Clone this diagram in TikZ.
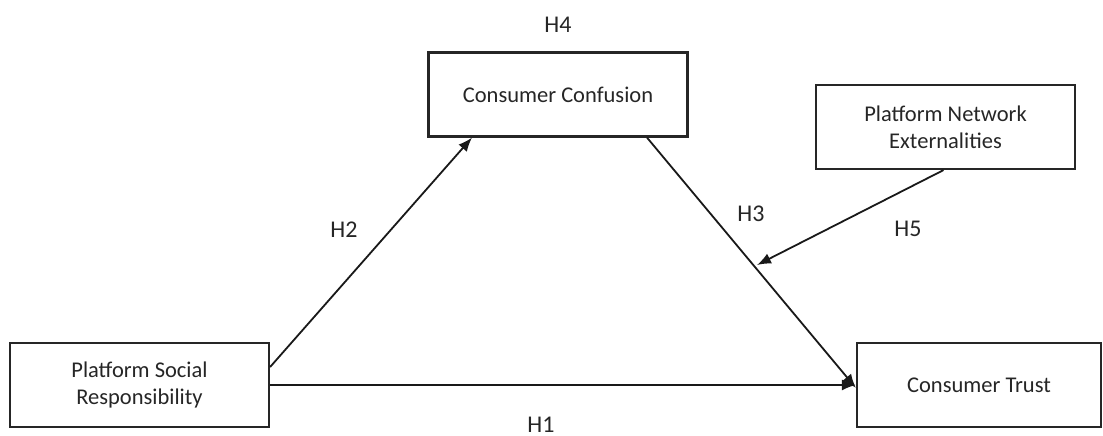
\documentclass[tikz,border=0pt]{standalone}
\usepackage{fontspec}
\setmainfont{Carlito}
\usetikzlibrary{arrows.meta}
\begin{document}
\begin{tikzpicture}[x=1pt,y=-1pt,
  box/.style={draw=black!85,line width=2.2pt,minimum width=259pt,minimum height=84pt,
    align=center,inner sep=0pt,font=\fontsize{22.5}{27}\selectfont,text=black!85},
  hlabel/.style={font=\fontsize{24}{28}\selectfont,text=black!85,inner sep=0pt},
  arr/.style={line width=1.8pt,draw=black!90,-{Latex[length=14pt,width=11pt]}}]
\useasboundingbox (0,0) rectangle (1103,436);
\node[box] (psr) at (139.5,385) {Platform Social\\Responsibility};
\node[box] (cc) at (558,94.5) {Consumer Confusion};
\node[box] (pne) at (945.5,127) {Platform Network\\Externalities};
\node[box,minimum width=244pt] (ct) at (979,385) {Consumer Trust};
\coordinate (mod) at (757,265);
\draw[arr] ([yshift=18pt]psr.east) -- ([xshift=-86pt]cc.south);
\draw[arr] (psr.east) -- (ct.west);
\draw[arr] ([xshift=89pt]cc.south) -- ([yshift=-3pt]ct.west);
\draw[arr] ([xshift=-2pt]pne.south) -- (mod);
\node[hlabel] (h4) at (558,25) {H4};
\node[hlabel] (h2) at (344,230) {H2};
\node[hlabel] (h3) at (751,214) {H3};
\node[hlabel] (h5) at (908,229) {H5};
\node[hlabel] (h1) at (541,425) {H1};
\end{tikzpicture}
\end{document}
